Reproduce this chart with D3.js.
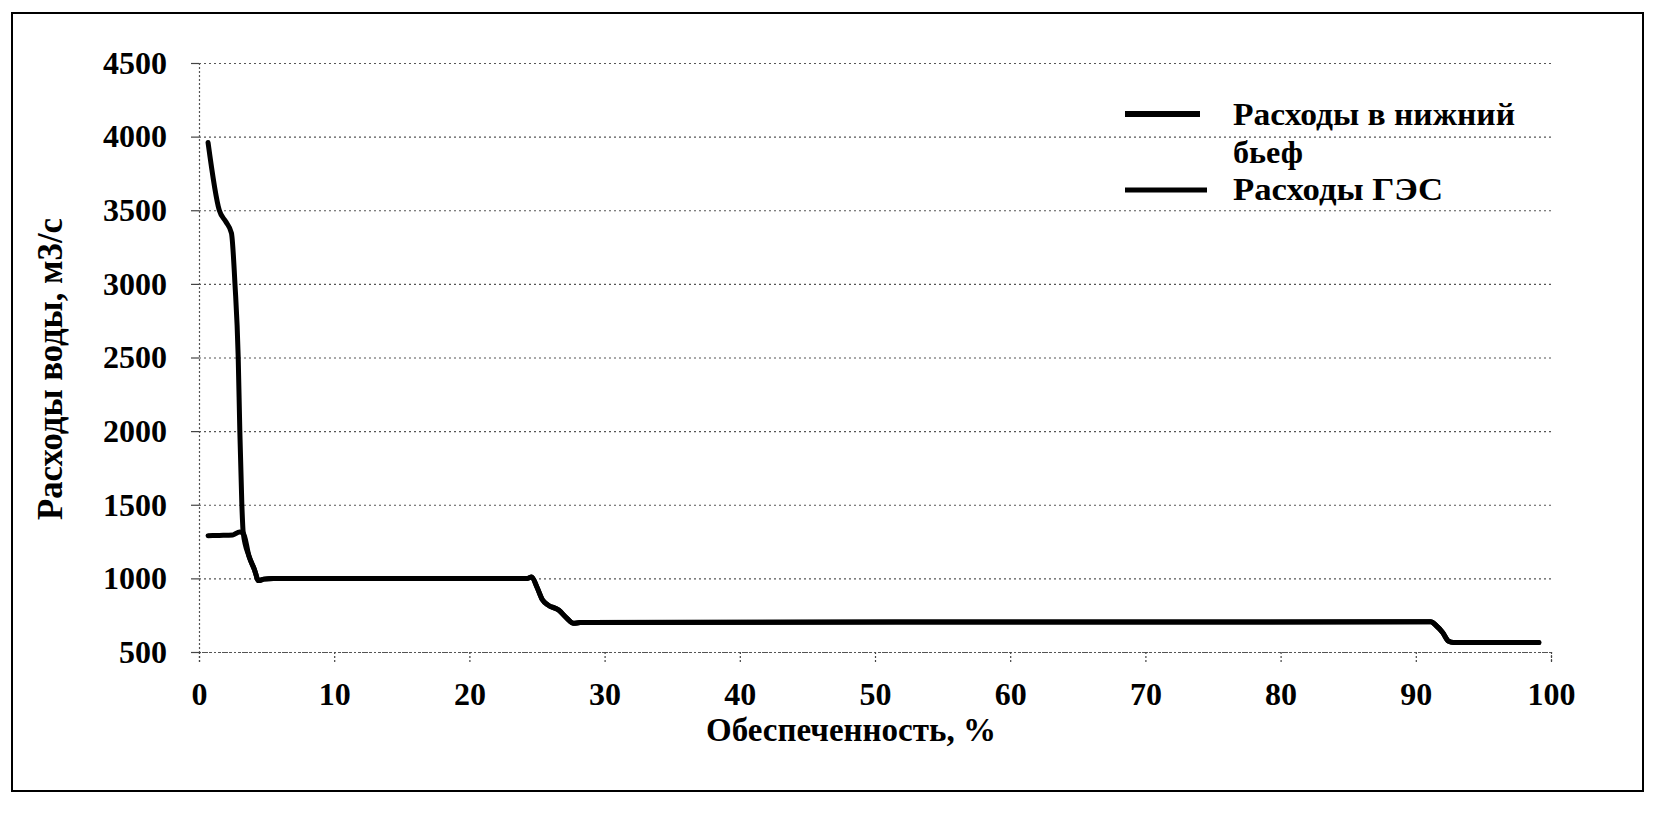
<!DOCTYPE html>
<html>
<head>
<meta charset="utf-8">
<script src="https://cdn.jsdelivr.net/npm/d3@7"></script>
<style>
  html, body { margin: 0; padding: 0; background: #fff; }
  svg { display: block; }
</style>
</head>
<body>
<svg id="chart" width="1654" height="813"></svg>
<script>
// ---- data ----
const xTicks = [0, 10, 20, 30, 40, 50, 60, 70, 80, 90, 100];
const yTicks = [500, 1000, 1500, 2000, 2500, 3000, 3500, 4000, 4500];

const seriesNames = ["Расходы в нижний", "бьеф", "Расходы ГЭС"];

// Расходы в нижний бьеф
const tailPercent = [0.67, 1.5, 2.0, 2.4, 2.66, 2.9, 3.02, 3.17, 3.27, 3.7, 4.1, 4.4, 4.8, 5.5, 24.3, 24.6, 25.0, 25.4, 25.8, 26.6, 27.2, 27.7, 28.2, 91.1, 91.5, 92.0, 92.4, 92.8, 99.1];
const tailValues  = [3960, 3500, 3420, 3345, 3000, 2500, 2000, 1500, 1310, 1150, 1060, 985, 995, 1000, 1000, 1010, 940, 855, 820, 785, 730, 695, 700, 705, 680, 630, 575, 565, 565];

// Расходы ГЭС
const hesPercent = [0.67, 1.5, 2.5, 3.0, 3.27, 3.7, 4.1, 4.4, 4.8, 5.5, 24.3, 24.6, 25.0, 25.4, 25.8, 26.6, 27.2, 27.7, 28.2, 91.1, 91.5, 92.0, 92.4, 92.8, 99.1];
const hesValues  = [1290, 1292, 1295, 1315, 1310, 1150, 1060, 985, 995, 1000, 1000, 1010, 940, 855, 820, 785, 730, 695, 700, 705, 680, 630, 575, 565, 565];

(function () {
// ---- layout ----
const svg = d3.select("#chart");
const mLeft = 199, mRight = 1551, mTop = 63, mBottom = 652;
const font = "'Liberation Serif', 'Times New Roman', serif";

const x = d3.scaleLinear().domain([0, 100]).range([mLeft, mRight]);
const y = d3.scaleLinear().domain([500, 4500]).range([mBottom, mTop]);

// outer frame
svg.append("rect")
  .attr("x", 12).attr("y", 13).attr("width", 1631).attr("height", 778)
  .attr("fill", "none").attr("stroke", "#000").attr("stroke-width", 2);

// horizontal grid
svg.append("g")
  .attr("transform", `translate(${mLeft},0)`)
  .call(d3.axisLeft(y).tickValues(yTicks).tickSize(-(mRight - mLeft)).tickFormat(""))
  .call(g => g.select(".domain").remove())
  .call(g => g.selectAll("line")
    .attr("stroke", "#555").attr("stroke-width", 1.2).attr("stroke-dasharray", "2,3"));

// y axis
const yAxis = svg.append("g")
  .attr("transform", `translate(${mLeft},0)`)
  .call(d3.axisLeft(y).tickValues(yTicks).tickSize(8).tickPadding(24).tickFormat(d3.format("d")));
yAxis.select(".domain").attr("stroke", "#555").attr("stroke-width", 1.2).attr("stroke-dasharray", "2,2");
yAxis.selectAll(".tick line").attr("stroke", "#444").attr("stroke-width", 1.2);
yAxis.selectAll("text")
  .attr("font-family", font).attr("font-weight", "bold").attr("font-size", 32).attr("fill", "#000");

// x axis
const xAxis = svg.append("g")
  .attr("transform", `translate(0,${mBottom})`)
  .call(d3.axisBottom(x).tickValues(xTicks).tickSize(10).tickPadding(20).tickFormat(d3.format("d")));
xAxis.select(".domain").attr("stroke", "#555").attr("stroke-width", 1.2).attr("stroke-dasharray", "2,2");
xAxis.selectAll(".tick line").attr("stroke", "#444").attr("stroke-width", 1.2).attr("stroke-dasharray", "2,2");
xAxis.selectAll("text")
  .attr("font-family", font).attr("font-weight", "bold").attr("font-size", 32).attr("fill", "#000");

// axis titles
svg.append("text")
  .attr("x", 851).attr("y", 741)
  .attr("text-anchor", "middle")
  .attr("font-family", font).attr("font-weight", "bold").attr("font-size", 33)
  .text("Обеспеченность, %");

svg.append("text")
  .attr("transform", "translate(62,369) rotate(-90)")
  .attr("text-anchor", "middle")
  .attr("font-family", font).attr("font-weight", "bold").attr("font-size", 36)
  .attr("textLength", 302).attr("lengthAdjust", "spacingAndGlyphs")
  .text("Расходы воды, м3/с");

// lines
const line = d3.line()
  .x(d => x(d[0])).y(d => y(d[1]))
  .curve(d3.curveMonotoneX);

const tail = tailPercent.map((p, i) => [p, tailValues[i]]);
const hes = hesPercent.map((p, i) => [p, hesValues[i]]);

svg.append("path").datum(hes)
  .attr("d", line).attr("fill", "none").attr("stroke", "#000")
  .attr("stroke-width", 5).attr("stroke-linejoin", "round").attr("stroke-linecap", "round");
svg.append("path").datum(tail)
  .attr("d", line).attr("fill", "none").attr("stroke", "#000")
  .attr("stroke-width", 5).attr("stroke-linejoin", "round").attr("stroke-linecap", "round");

// legend
const lg = svg.append("g");
lg.append("line").attr("x1", 1125).attr("x2", 1200).attr("y1", 114).attr("y2", 114)
  .attr("stroke", "#000").attr("stroke-width", 6);
lg.append("line").attr("x1", 1125).attr("x2", 1207).attr("y1", 190).attr("y2", 190)
  .attr("stroke", "#000").attr("stroke-width", 5);
const legendY = [125, 163, 200];
const legendW = [282, 70, 210];
seriesNames.forEach((t, i) => {
  lg.append("text")
    .attr("x", 1233).attr("y", legendY[i])
    .attr("font-family", font).attr("font-weight", "bold").attr("font-size", 31).attr("fill", "#000")
    .attr("textLength", legendW[i]).attr("lengthAdjust", "spacingAndGlyphs")
    .text(t);
});
})();
</script>
</body>
</html>
